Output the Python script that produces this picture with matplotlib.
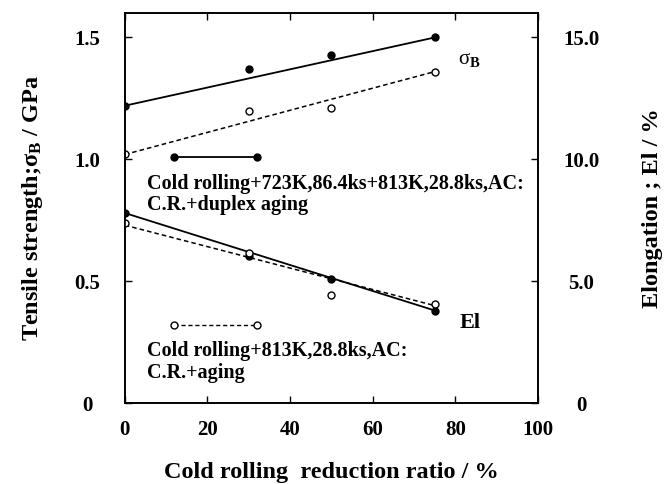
import matplotlib
matplotlib.use("Agg")
import matplotlib.pyplot as plt
import numpy as np

plt.rcParams['font.family'] = ['Liberation Serif', 'DejaVu Serif']
plt.rcParams['mathtext.fontset'] = 'custom'
plt.rcParams['mathtext.rm'] = 'Liberation Serif:bold'
plt.rcParams['mathtext.it'] = 'Liberation Serif:italic:bold'
plt.rcParams['mathtext.bf'] = 'Liberation Serif:bold'

reduction = [0, 30, 50, 75]
sb_duplex = [1.22, 1.37, 1.43, 1.50]
sb_aging = [1.02, 1.20, 1.21, 1.36]
el_duplex = [7.8, 6.05, 5.1, 3.8]
el_aging = [7.4, 6.15, 4.45, 4.05]

fit_x = [0, 75]
sb_duplex_fit = [1.22, 1.50]
sb_aging_fit = [1.02, 1.36]
el_duplex_fit = [7.8, 3.8]
el_aging_fit = [7.3, 4.0]

fig = plt.figure(figsize=(6.71, 4.84), dpi=100)
ax = fig.add_axes([0.186, 0.167, 0.616, 0.806])
ax2 = ax.twinx()

ax.set_xlim(0, 100)
ax.set_ylim(0, 1.6)
ax2.set_ylim(0, 16)

# strength
ax.plot(fit_x, sb_duplex_fit, 'k-', lw=1.3)
ax.plot(fit_x, sb_aging_fit, 'k--', lw=1.1, dashes=(3, 2))
ax.plot(reduction, sb_duplex, 'ko', ms=5, ls='none')
ax.plot(reduction, sb_aging, 'o', ms=5, mfc='white', mec='k', mew=1.0, ls='none')
# elongation
ax2.plot(fit_x, el_duplex_fit, 'k-', lw=1.3)
ax2.plot(fit_x, el_aging_fit, 'k--', lw=1.1, dashes=(3, 2))
ax2.plot(reduction, el_duplex, 'ko', ms=5, ls='none')
ax2.plot(reduction, el_aging, 'o', ms=5, mfc='white', mec='k', mew=1.0, ls='none')

# legend-like annotations
ax.plot([12, 32], [1.01, 1.01], 'k-', lw=1.3, marker='o', ms=5)
ax.text(5.3, 0.857, 'Cold rolling+723K,86.4ks+813K,28.8ks,AC:\nC.R.+duplex aging',
        fontsize=14.5, fontweight='bold', va='center', ha='left', linespacing=1.05)
ax.plot([12, 32], [0.32, 0.32], 'k--', lw=1.0, dashes=(3, 2), marker='o', ms=5,
        mfc='white', mec='k')
ax.text(5.3, 0.168, 'Cold rolling+813K,28.8ks,AC:\nC.R.+aging',
        fontsize=14.5, fontweight='bold', va='center', ha='left', linespacing=1.1)

ax.text(80.5, 1.41, r'σ$_{\mathrm{B}}$', fontsize=15, ha='left', va='center')
ax.text(81, 0.33, 'El', fontsize=16, fontweight='bold', ha='left', va='center')

ax.set_xticks([0, 20, 40, 60, 80, 100])
ax.set_xticklabels(['0', '20', '40', '60', '80', '100'])
ax.set_yticks([0, 0.5, 1.0, 1.5])
ax.set_yticklabels(['0', '0.5', '1.0', '1.5'])
ax2.set_yticks([0, 5, 10, 15])
ax2.set_yticklabels(['0', '5.0', '10.0', '15.0'])

ax.tick_params(axis='x', direction='in', length=5, width=1, labelsize=15,
               top=True, pad=12)
ax.tick_params(axis='y', direction='in', length=5, width=1, labelsize=15, pad=27)
ax2.tick_params(axis='y', direction='in', length=5, width=1, labelsize=15, pad=31)
for t in ax.get_xticklabels() + ax.get_yticklabels() + ax2.get_yticklabels():
    t.set_fontweight('bold')
for t in ax.get_yticklabels() + ax2.get_yticklabels():
    t.set_ha('center')

for a in (ax, ax2):
    for s in a.spines.values():
        s.set_linewidth(1.2)

ax.set_xlabel('Cold rolling  reduction ratio / %', fontsize=17.5, fontweight='bold', labelpad=16)
ax.set_ylabel(r'Tensile strength;σ$_{\mathrm{B}}$ / GPa', fontsize=17.5, fontweight='bold', labelpad=21)
ax2.set_ylabel('Elongation ; El / %', fontsize=17.5, fontweight='bold', labelpad=31)

fig.savefig('out.png', dpi=100)
